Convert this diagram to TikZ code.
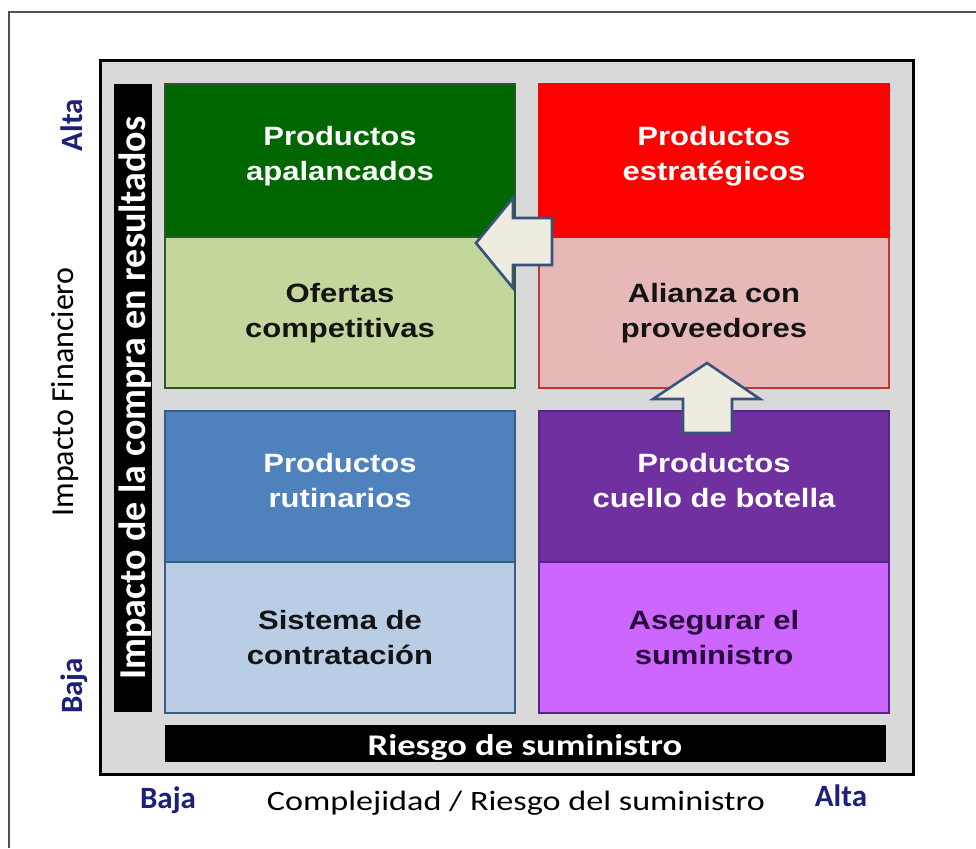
\documentclass[tikz,border=0pt]{standalone}
\usepackage{fontspec}
\setmainfont{Liberation Sans}
\newfontfamily\arialx[FakeStretch=1.17]{Liberation Sans}
\newfontfamily\calx[FakeStretch=1.22]{Carlito}
\newfontfamily\calr{Carlito}
\definecolor{dgreen}{RGB}{0,102,0}
\definecolor{lgreen}{RGB}{195,214,155}
\definecolor{gborder}{RGB}{40,90,40}
\definecolor{dred}{RGB}{255,0,0}
\definecolor{pinkc}{RGB}{230,185,184}
\definecolor{rborder}{RGB}{200,50,50}
\definecolor{dblue}{RGB}{79,129,189}
\definecolor{lblue}{RGB}{185,205,229}
\definecolor{bborder}{RGB}{56,93,138}
\definecolor{dpurple}{RGB}{112,48,160}
\definecolor{lpurple}{RGB}{204,102,255}
\definecolor{pborder}{RGB}{90,35,140}
\definecolor{panelgray}{RGB}{217,217,217}
\definecolor{arrowfill}{RGB}{238,236,225}
\definecolor{arrowline}{RGB}{56,82,125}
\definecolor{navy}{RGB}{28,32,120}
\definecolor{darktext}{RGB}{20,20,20}
\definecolor{purptext}{RGB}{40,10,60}
\definecolor{framegray}{RGB}{80,80,80}
\begin{document}
\begin{tikzpicture}[x=1pt,y=-1pt,
  box/.style={rectangle, inner sep=0pt, outer sep=0pt, anchor=north west, line width=1.2pt},
  qtxt/.style={inner sep=0pt, anchor=base, font=\arialx\bfseries\fontsize{26.5}{32}\selectfont},
  wtxt/.style={qtxt, text=white},
  ktxt/.style={qtxt, text=darktext},
  blockarrow/.style={fill=arrowfill, draw=arrowline, line width=2.6pt, line join=miter},
  axislbl/.style={inner sep=0pt, anchor=base, text=navy, font=\calr\bfseries\fontsize{31}{36}\selectfont}
]
\useasboundingbox (0,0) rectangle (976,848);
\fill[white] (0,0) rectangle (976,848);
% outer frame
\draw[framegray, line width=2pt] (9,848) -- (9,12) -- (976,12);
% grey panel
\node[box, draw=black, line width=3pt, fill=panelgray, minimum width=813pt, minimum height=713pt] (panel) at (100,61) {};
% left black bar
\node[box, fill=black, minimum width=38pt, minimum height=628pt] (lbar) at (114,84) {};
% bottom black bar
\node[box, fill=black, minimum width=721pt, minimum height=37pt] (bbar) at (165,725) {};
% quadrants
\node[box, fill=lgreen, draw=gborder, minimum width=350pt, minimum height=304pt] (tl) at (165,84) {};
\node[box, fill=dgreen, draw=gborder, minimum width=350pt, minimum height=153pt] (tlb) at (165,84) {};
\node[box, fill=pinkc, draw=rborder, minimum width=350pt, minimum height=304pt] (tr) at (539,84) {};
\node[box, fill=dred, draw=dred, minimum width=350pt, minimum height=153pt] (trb) at (539,84) {};
\node[box, fill=lblue, draw=bborder, minimum width=350pt, minimum height=302pt] (bl) at (165,411) {};
\node[box, fill=dblue, draw=bborder, minimum width=350pt, minimum height=151pt] (blb) at (165,411) {};
\node[box, fill=lpurple, draw=pborder, minimum width=350pt, minimum height=302pt] (br) at (539,411) {};
\node[box, fill=dpurple, draw=pborder, minimum width=350pt, minimum height=151pt] (brb) at (539,411) {};
% block arrows
\draw[blockarrow] (552,218) -- (513,218) -- (513,198) -- (476,243) -- (513,288) -- (513,265) -- (552,265) -- cycle;
\draw[blockarrow] (683,433) -- (683,399) -- (653,399) -- (707,363) -- (760,399) -- (732,399) -- (732,433) -- cycle;
% quadrant texts
\node[wtxt] (t1a) at (340,145) {Productos};
\node[wtxt] (t1b) at (340,180) {apalancados};
\node[ktxt] (t2a) at (340,302) {Ofertas};
\node[ktxt] (t2b) at (340,337) {competitivas};
\node[wtxt] (t3a) at (714,145) {Productos};
\node[wtxt] (t3b) at (714,180) {estratégicos};
\node[ktxt] (t4a) at (714,302) {Alianza con};
\node[ktxt] (t4b) at (714,337) {proveedores};
\node[wtxt] (t5a) at (340,472) {Productos};
\node[wtxt] (t5b) at (340,507) {rutinarios};
\node[ktxt] (t6a) at (340,629) {Sistema de};
\node[ktxt] (t6b) at (340,664) {contratación};
\node[wtxt] (t7a) at (714,472) {Productos};
\node[wtxt] (t7b) at (714,507) {cuello de botella};
\node[ktxt, text=purptext] (t8a) at (714,629) {Asegurar el};
\node[ktxt, text=purptext] (t8b) at (714,664) {suministro};
% bar texts
\node[inner sep=0pt, anchor=base, text=white, font=\calx\bfseries\fontsize{30}{34}\selectfont] (btxt) at (525,755) {Riesgo de suministro};
\node[inner sep=0pt, anchor=base, rotate=90, text=white, font=\calr\bfseries\fontsize{38}{42}\selectfont] (ltxt) at (145,398) {Impacto de la compra en resultados};
% axis labels
\node[inner sep=0pt, anchor=base, rotate=90, text=black, font=\calr\fontsize{32}{36}\selectfont] (ylbl) at (73,392) {Impacto Financiero};
\node[axislbl, rotate=90] (yalta) at (82,125) {Alta};
\node[axislbl, rotate=90] (ybaja) at (82,686) {Baja};
\node[axislbl] (xbaja) at (168,808) {Baja};
\node[axislbl] (xalta) at (841,806) {Alta};
\node[inner sep=0pt, anchor=base, text=black, font=\calx\fontsize{28}{32}\selectfont] (xlbl) at (516,810) {Complejidad / Riesgo del suministro};
\end{tikzpicture}
\end{document}
